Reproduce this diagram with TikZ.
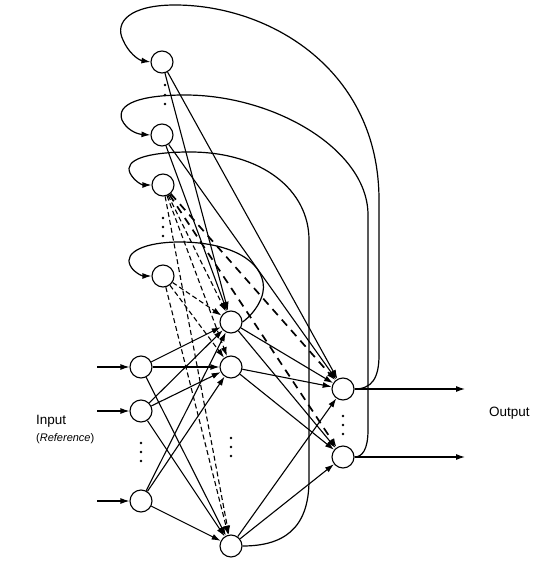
\documentclass[tikz,border=0pt]{standalone}
\usepackage{fontspec}
\setmainfont{Liberation Sans}
\usetikzlibrary{arrows.meta}

\tikzset{
  neuron/.style={circle, draw, line width=1.1pt, minimum size=22pt, inner sep=0pt},
  tip/.style={-{Latex[length=9pt,width=6pt]}},
  link/.style={tip, line width=1.1pt},
  ctxlink/.style={tip, line width=1.1pt, dash pattern=on 5pt off 3pt},
  longdash/.style={tip, line width=1.7pt, dash pattern=on 8pt off 6pt},
  loopback/.style={tip, line width=1.2pt},
  dotmark/.style={fill=black},
  lbl/.style={inner sep=0pt, font=\fontsize{13.5}{15}\selectfont}
}

\begin{document}
\begin{tikzpicture}[x=1pt, y=-1pt]
\useasboundingbox (0,0) rectangle (541,561);

% context units
\node[neuron] (C1) at (162,62) {};
\node[neuron] (C2) at (162,135) {};
\node[neuron] (C3) at (163,185) {};
\node[neuron] (C4) at (163,276) {};

% input units
\node[neuron] (I1) at (141,367) {};
\node[neuron] (I2) at (141,411) {};
\node[neuron] (I3) at (141,501) {};

% hidden units
\node[neuron] (H1) at (231,322) {};
\node[neuron] (H2) at (231,367) {};
\node[neuron] (H3) at (231,546) {};

% output units
\node[neuron] (O1) at (343,389) {};
\node[neuron] (O2) at (343,457) {};

% ellipsis dots
\foreach \y in {85,95,104} \fill[dotmark] (165,\y) circle (1.4pt);
\foreach \y in {218,227,236} \fill[dotmark] (163,\y) circle (1.4pt);
\foreach \y in {443,452,461} \fill[dotmark] (141,\y) circle (1.4pt);
\foreach \y in {438,447,456} \fill[dotmark] (231,\y) circle (1.4pt);
\foreach \y in {416,425,434} \fill[dotmark] (343,\y) circle (1.4pt);

% labels
\node[lbl, anchor=west] (inlbl) at (36,421) {Input};
\node[inner sep=0pt, anchor=west, font=\fontsize{11}{12}\selectfont] (reflbl) at (36,439) {(\textit{Reference})};
\node[lbl, anchor=west] (outlbl) at (489,413) {Output};

% external inputs and outputs
\coordinate (in1) at (97,367);
\coordinate (in2) at (97,411);
\coordinate (in3) at (97,501);
\coordinate (out1) at (465,389);
\coordinate (out2) at (465,457);
\foreach \k in {1,2,3} \draw[link] (in\k) -- (I\k);
\draw[link] (O1.east) -- (out1);
\draw[link] (O2.east) -- (out2);

% input -> hidden
\foreach \i in {1,2,3}
  \foreach \h in {1,2,3}
    \draw[link] (I\i) -- (H\h);

% hidden -> output
\foreach \h in {1,2,3}
  \foreach \o in {1,2}
    \draw[link] (H\h) -- (O\o);

% output-fed context units
\draw[link] (C1) -- (H1);
\draw[link] (C1) -- (O1);
\draw[link] (C2) -- (H1);
\draw[link] (C2) -- (O1);

% hidden-fed context units
\foreach \c in {3,4}
  \foreach \h in {1,2,3}
    \draw[ctxlink] (C\c) -- (H\h);
\draw[longdash] (C3) -- (O1);
\draw[longdash] (C3) -- (O2);

% recurrent copies back to the context units
\draw[loopback] (O1.east) .. controls (372,389) and (379,378) .. (379,355)
  -- (379,200) .. controls (379,70) and (270,5) .. (175,5)
  .. controls (130,5) and (114,22) .. (123,40)
  .. controls (128,52) and (138,60) .. (C1.west);
\draw[loopback] (O2.east) .. controls (362,457) and (368,450) .. (368,430)
  -- (368,215) .. controls (368,150) and (275,95) .. (185,95)
  .. controls (140,95) and (116,104) .. (122,120)
  .. controls (126,129) and (136,134) .. (C2.west);
\draw[loopback] (H3.east) .. controls (282,546) and (309,530) .. (309,480)
  -- (309,240) .. controls (309,190) and (262,152) .. (190,152)
  .. controls (146,152) and (124,160) .. (130,173)
  .. controls (134,181) and (142,185) .. (C3.west);
\draw[loopback] (H1.east) .. controls (255,313) and (266,296) .. (263,282)
  .. controls (258,256) and (222,242) .. (180,242)
  .. controls (145,242) and (124,252) .. (130,265)
  .. controls (133,272) and (142,276) .. (C4.west);
\end{tikzpicture}
\end{document}
